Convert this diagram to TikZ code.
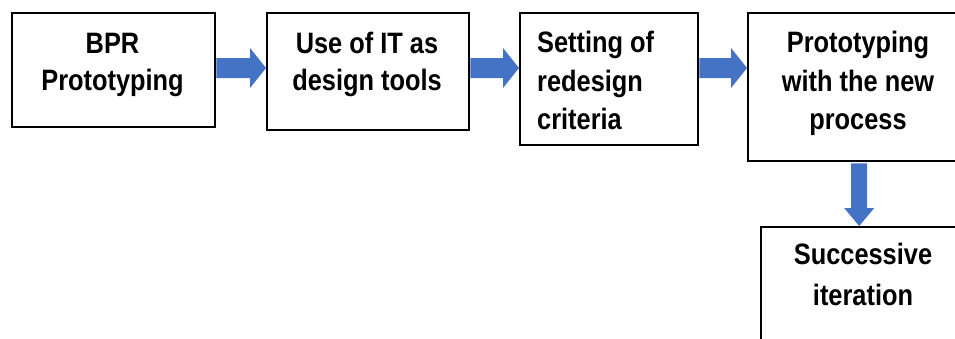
\documentclass[tikz,border=0pt]{standalone}
\usepackage{fontspec}
\setmainfont{Liberation Sans}[FakeStretch=0.86]
\usetikzlibrary{calc}
\definecolor{flowblue}{HTML}{4472C4}
\tikzset{
  frame/.style={draw=black, line width=2.4pt, fill=white, rectangle,
    anchor=north west, inner sep=0pt},
  label/.style={font=\fontsize{29.5}{37}\selectfont\bfseries, inner sep=0pt,
    anchor=north},
  blockarrow/.style={fill=flowblue, draw=none}
}
% horizontal block arrow between two nodes on the row line
\newcommand\harrow[2]{%
  \fill[blockarrow]
    (#1.east |- row) ++(0,-10) -- ($(#2.west |- row)+(-16,-10)$)
    -- ($(#2.west |- row)+(-16,-20)$) -- (#2.west |- row)
    -- ($(#2.west |- row)+(-16,20)$) -- ($(#2.west |- row)+(-16,10)$)
    -- ($(#1.east |- row)+(0,10)$) -- cycle;}
\begin{document}
\begin{tikzpicture}[x=1pt, y=-1pt]
  \useasboundingbox (0,0) rectangle (955,338);
  \coordinate (row) at (0,68);

  % process boxes
  \node[frame, minimum width=203, minimum height=114] (b1) at (11,12) {};
  \node[frame, minimum width=202, minimum height=117] (b2) at (266,12) {};
  \node[frame, minimum width=178, minimum height=132] (b3) at (519,12) {};
  \node[frame, minimum width=222, minimum height=148] (b4) at (747,12) {};
  \node[frame, minimum width=206, minimum height=150] (b5) at (760,226) {};

  % box texts
  \node[label, align=center] (t1) at (112.5,33) {BPR\\Prototyping};
  \node[label, align=center] (t2) at (367,32) {Use of IT as\\design tools};
  \node[label, align=left, anchor=north west, font=\fontsize{29.5}{38.5}\selectfont\bfseries]
    (t3) at (537,31) {Setting of\\redesign\\criteria};
  \node[label, align=center, font=\fontsize{29.5}{38.5}\selectfont\bfseries]
    (t4) at (858,31) {Prototyping\\with the new\\process};
  \node[label, align=center, font=\fontsize{29.5}{41}\selectfont\bfseries]
    (t5) at (863,243) {Successive\\iteration};

  % connectors
  \harrow{b1}{b2}
  \harrow{b2}{b3}
  \harrow{b3}{b4}
  \fill[blockarrow]
    ($(b4.south)+(-8,1)$) -- ($(b5.north -| b4.south)+(-8,-18)$)
    -- ($(b5.north -| b4.south)+(-15,-18)$) -- (b5.north -| b4.south)
    -- ($(b5.north -| b4.south)+(15,-18)$) -- ($(b5.north -| b4.south)+(8,-18)$)
    -- ($(b4.south)+(8,1)$) -- cycle;
\end{tikzpicture}
\end{document}
